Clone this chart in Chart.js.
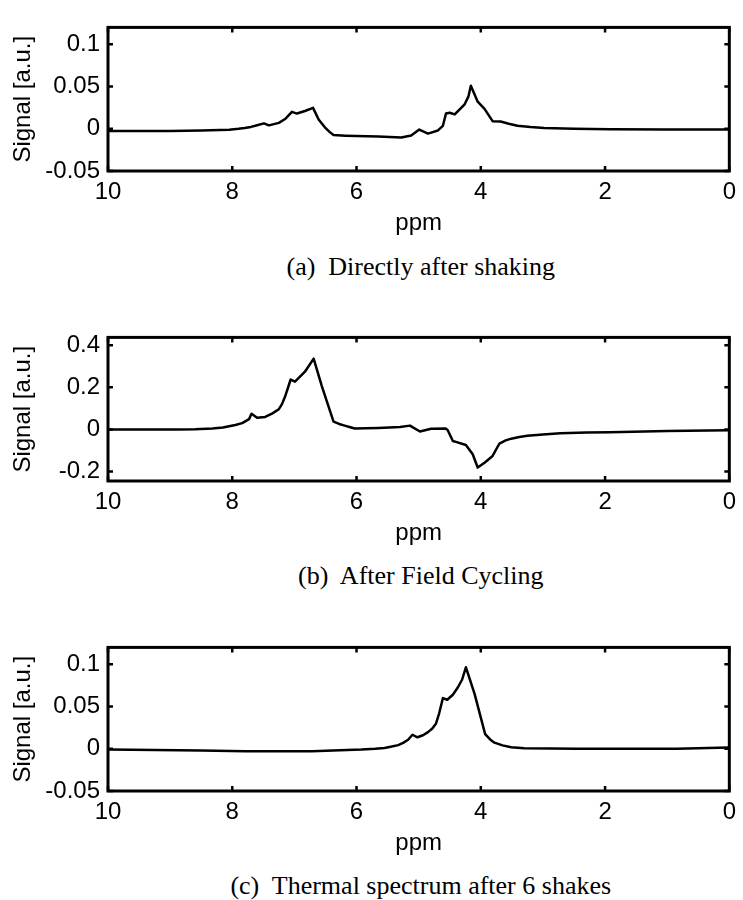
<!DOCTYPE html>
<html>
<head>
<meta charset="utf-8">
<script src="https://cdn.jsdelivr.net/npm/chart.js@4.4.1/dist/chart.umd.min.js"></script>
<style>
  html, body { margin: 0; padding: 0; background: #fff; width: 743px; height: 900px; overflow: hidden; }
  .panel { position: absolute; left: 0; }
  .caption {
    position: absolute; left: 420.75px; transform: translateX(-50%);
    font-family: "Liberation Serif", "Times New Roman", serif; font-size: 26px;
    line-height: 30px; white-space: nowrap; color: #000;
  }
</style>
</head>
<body>
<canvas id="spA" class="panel" width="743" height="236" style="top:5px"></canvas>
<div class="caption" style="top:252px">(a)&nbsp; Directly after shaking</div>
<canvas id="spB" class="panel" width="743" height="236" style="top:315px"></canvas>
<div class="caption" style="top:561px">(b)&nbsp; After Field Cycling</div>
<canvas id="spC" class="panel" width="743" height="236" style="top:625px"></canvas>
<div class="caption" style="top:871px">(c)&nbsp; Thermal spectrum after 6 shakes</div>

<script>
// Chemical shift axis (ppm) shared by all three spectra
const xTicks = [10, 8, 6, 4, 2, 0];

// (a) Directly after shaking
const ppmA = [10, 9, 8.5, 8.05, 7.9, 7.8, 7.7, 7.63, 7.49, 7.41, 7.25, 7.15, 7.04, 6.96, 6.83, 6.70, 6.61,
              6.51, 6.43, 6.37, 6.18, 5.65, 5.28, 5.12, 4.99, 4.85, 4.69, 4.61, 4.56, 4.50, 4.42, 4.26, 4.20,
              4.16, 4.05, 3.94, 3.81, 3.68, 3.55, 3.41, 3.2, 2.98, 2.5, 1.92, 1.0, 0];
const sigA = [-0.0025, -0.0025, -0.002, -0.0012, 0, 0.001, 0.0022, 0.0035, 0.0064, 0.004, 0.007, 0.0115,
              0.020, 0.018, 0.021, 0.0247, 0.011, 0.0017, -0.004, -0.0075, -0.0082, -0.0093, -0.0104, -0.008,
              -0.001, -0.0057, -0.002, 0.0035, 0.018, 0.019, 0.017, 0.029, 0.038, 0.051, 0.032, 0.0236,
              0.009, 0.0086, 0.006, 0.0035, 0.002, 0.001, 0, -0.0005, -0.0008, -0.0008];
const yTicksA = [-0.05, 0, 0.05, 0.1];
const yLabelsA = ['-0.05', '0', '0.05', '0.1'];

// (b) After field cycling
const ppmB = [10, 8.86, 8.6, 8.32, 8.15, 8.05, 7.95, 7.84, 7.73, 7.69, 7.60, 7.47, 7.36, 7.25, 7.20, 7.15,
              7.06, 6.99, 6.83, 6.69, 6.56, 6.37, 6.28, 6.19, 6.10, 6.03, 5.65, 5.30, 5.14, 4.98, 4.80, 4.56,
              4.53, 4.45, 4.40, 4.24, 4.13, 4.05, 3.94, 3.81, 3.70, 3.60, 3.51, 3.38, 3.25, 3.0, 2.72, 2.3,
              1.92, 1.0, 0];
const sigB = [0, 0, 0.001, 0.004, 0.009, 0.015, 0.021, 0.03, 0.049, 0.074, 0.055, 0.059, 0.075, 0.096, 0.12,
              0.156, 0.237, 0.227, 0.274, 0.336, 0.207, 0.037, 0.026, 0.018, 0.01, 0.004, 0.007, 0.012, 0.018,
              -0.01, 0.003, 0.004, -0.005, -0.055, -0.059, -0.074, -0.118, -0.181, -0.158, -0.126, -0.067,
              -0.052, -0.044, -0.036, -0.030, -0.024, -0.018, -0.015, -0.013, -0.008, -0.004];
const yTicksB = [-0.2, 0, 0.2, 0.4];
const yLabelsB = ['-0.2', '0', '0.2', '0.4'];

// (c) Thermal spectrum after 6 shakes
const ppmC = [10, 8.5, 7.79, 6.72, 5.92, 5.7, 5.55, 5.45, 5.33, 5.25, 5.17, 5.10, 5.02, 4.93, 4.85, 4.78,
              4.72, 4.67, 4.61, 4.54, 4.45, 4.37, 4.30, 4.24, 4.10, 3.93, 3.85, 3.78, 3.65, 3.51, 3.3, 2.45,
              0.85, 0];
const sigC = [-0.001, -0.002, -0.003, -0.003, -0.001, 0, 0.001, 0.0025, 0.0043, 0.007, 0.0107, 0.0166,
              0.0136, 0.016, 0.0197, 0.024, 0.030, 0.042, 0.060, 0.058, 0.064, 0.0725, 0.082, 0.0965, 0.065,
              0.0173, 0.011, 0.0072, 0.004, 0.0018, 0.0005, 0, 0, 0.0015];
const yTicksC = [-0.05, 0, 0.05, 0.1];
const yLabelsC = ['-0.05', '0', '0.05', '0.1'];

const SANS = '"Liberation Sans", Arial, Helvetica, sans-serif';
const TICK_LEN = 5;

// Box around the plot area with inward tick marks on all four sides
const frameTicks = {
  id: 'frameTicks',
  afterDatasetsDraw(chart) {
    const { ctx, chartArea: a, scales: { x, y } } = chart;
    ctx.save();
    ctx.strokeStyle = '#000';
    ctx.lineWidth = 2.5;
    ctx.beginPath();
    x.ticks.forEach(t => {
      const px = x.getPixelForValue(t.value);
      ctx.moveTo(px, a.bottom); ctx.lineTo(px, a.bottom - TICK_LEN);
      ctx.moveTo(px, a.top); ctx.lineTo(px, a.top + TICK_LEN);
    });
    y.ticks.forEach(t => {
      const py = y.getPixelForValue(t.value);
      ctx.moveTo(a.left, py); ctx.lineTo(a.left + TICK_LEN, py);
      ctx.moveTo(a.right, py); ctx.lineTo(a.right - TICK_LEN, py);
    });
    ctx.stroke();
    ctx.lineWidth = 3;
    ctx.strokeRect(a.left, a.top, a.right - a.left, a.bottom - a.top);
    ctx.restore();
  }
};

function spectrum(id, ppm, sig, yMin, yMax, yTicks, yLabels) {
  const points = ppm.map((p, i) => ({ x: p, y: sig[i] }));
  return new Chart(document.getElementById(id), {
    type: 'line',
    data: {
      datasets: [{
        data: points,
        borderColor: '#000',
        borderWidth: 2.5,
        borderJoinStyle: 'round',
        borderCapStyle: 'round',
        pointRadius: 0,
        fill: false,
        tension: 0
      }]
    },
    options: {
      responsive: false,
      animation: false,
      devicePixelRatio: 1,
      events: [],
      layout: { padding: { top: 12, right: 10, left: 0, bottom: 0 } },
      plugins: { legend: { display: false }, tooltip: { enabled: false } },
      scales: {
        x: {
          type: 'linear',
          reverse: true,
          min: 0,
          max: 10,
          afterBuildTicks: s => { s.ticks = xTicks.map(v => ({ value: v })); },
          afterFit: s => { s.height = 70; },
          grid: { display: false, drawTicks: false },
          border: { display: false },
          ticks: {
            padding: 7,
            color: '#000',
            font: { family: SANS, size: 24 },
            maxRotation: 0,
            callback: v => String(v)
          },
          title: {
            display: true,
            text: 'ppm',
            color: '#000',
            font: { family: SANS, size: 24 },
            padding: { top: 0, bottom: 3 }
          }
        },
        y: {
          type: 'linear',
          min: yMin,
          max: yMax,
          afterBuildTicks: s => { s.ticks = yTicks.map(v => ({ value: v })); },
          afterFit: s => { s.width = 108; },
          grid: { display: false, drawTicks: false },
          border: { display: false },
          ticks: {
            padding: 8,
            color: '#000',
            font: { family: SANS, size: 24 },
            callback: v => yLabels[yTicks.indexOf(v)]
          },
          title: {
            display: true,
            text: 'Signal [a.u.]',
            color: '#000',
            font: { family: SANS, size: 24 },
            padding: { top: 9, bottom: 0 }
          }
        }
      }
    },
    plugins: [frameTicks]
  });
}

spectrum('spA', ppmA, sigA, -0.05, 0.12, yTicksA, yLabelsA);
spectrum('spB', ppmB, sigB, -0.245, 0.437, yTicksB, yLabelsB);
spectrum('spC', ppmC, sigC, -0.05, 0.12, yTicksC, yLabelsC);
</script>
</body>
</html>
